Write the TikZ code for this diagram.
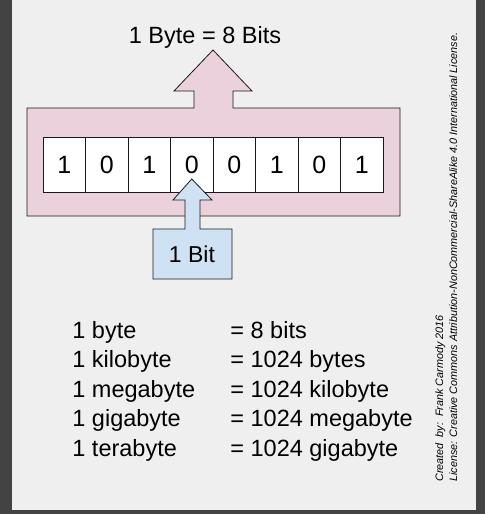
\documentclass[tikz,border=0pt]{standalone}
\usepackage{fontspec}
\setmainfont{Liberation Sans}
\usetikzlibrary{positioning, calc}

\definecolor{framebg}{HTML}{434343}
\definecolor{pagebg}{HTML}{EFEFEF}
\definecolor{bytepink}{HTML}{EAD1DC}
\definecolor{bitblue}{HTML}{CFE2F3}
\definecolor{edge}{HTML}{1A1A1A}

\tikzset{
    bitcell/.style = {draw=edge, fill=white, minimum width=42.5pt, minimum height=55pt, inner sep=0pt, font=\fontsize{25}{25}\selectfont},
    bigtext/.style = {inner sep=0pt, font=\fontsize{23.5}{23.5}\selectfont},
    unitrow/.style = {bigtext, anchor=base west},
    credit/.style = {inner sep=0pt, rotate=90, anchor=base west, font=\fontsize{10.8}{10.8}\itshape\selectfont}
}

\begin{document}
\begin{tikzpicture}[x=1pt, y=-1pt, line width=0.8pt]
    % background
    \fill[framebg] (0,0) rectangle (485,514);
    \fill[pagebg] (12,0) rectangle (476,510);

    % byte frame with arrow
    \draw[edge, fill=bytepink] (27,108) -- (194,108) -- (194,91) -- (174,91) -- (213,50) -- (252,91) -- (233,91) -- (233,108)
        -- (400,108) -- (400,216) -- (27,216) -- cycle;
    \node[bigtext, anchor=base] (byte-label) at (205,43) {1 Byte = 8 Bits};

    % the bits
    \foreach \b [count=\i] in {1,0,1,0,0,1,0,1}
        \node[bitcell] (bit\i) at ({43+42.5*(\i-0.5)},164.5) {\b};

    % one bit with arrow
    \coordinate (tip) at ($(bit4.center)+(0,14.5)$);
    \draw[edge, fill=bitblue] (153,279) -- (153,229) -- (185,229) -- (185,200) -- (173,200) -- (tip) -- (212,200) -- (200,200)
        -- (200,229) -- (232,229) -- (232,279) -- cycle;
    \node[bigtext, font=\fontsize{23}{23}\selectfont] (bit-label) at (192,254) {1 Bit};

    % units
    \node[unitrow] (row1) at (72,338) {1 byte};
    \node[unitrow] (row2) at (72,367.5) {1 kilobyte};
    \node[unitrow] (row3) at (72,397) {1 megabyte};
    \node[unitrow] (row4) at (72,426.5) {1 gigabyte};
    \node[unitrow] (row5) at (72,456) {1 terabyte};
    \node[unitrow] (val1) at (230,338) {= 8 bits};
    \node[unitrow] (val2) at (230,367.5) {= 1024 bytes};
    \node[unitrow] (val3) at (230,397) {= 1024 kilobyte};
    \node[unitrow] (val4) at (230,426.5) {= 1024 megabyte};
    \node[unitrow] (val5) at (230,456) {= 1024 gigabyte};

    % credits
    \node[credit] (created) at (443,482) {Created\ \ by:\ \ Frank Carmody 2016};
    \node[credit] (license) at (457,482) {License: Creative Commons Attribution-NonCommercial-ShareAlike 4.0 International License.};
\end{tikzpicture}
\end{document}
